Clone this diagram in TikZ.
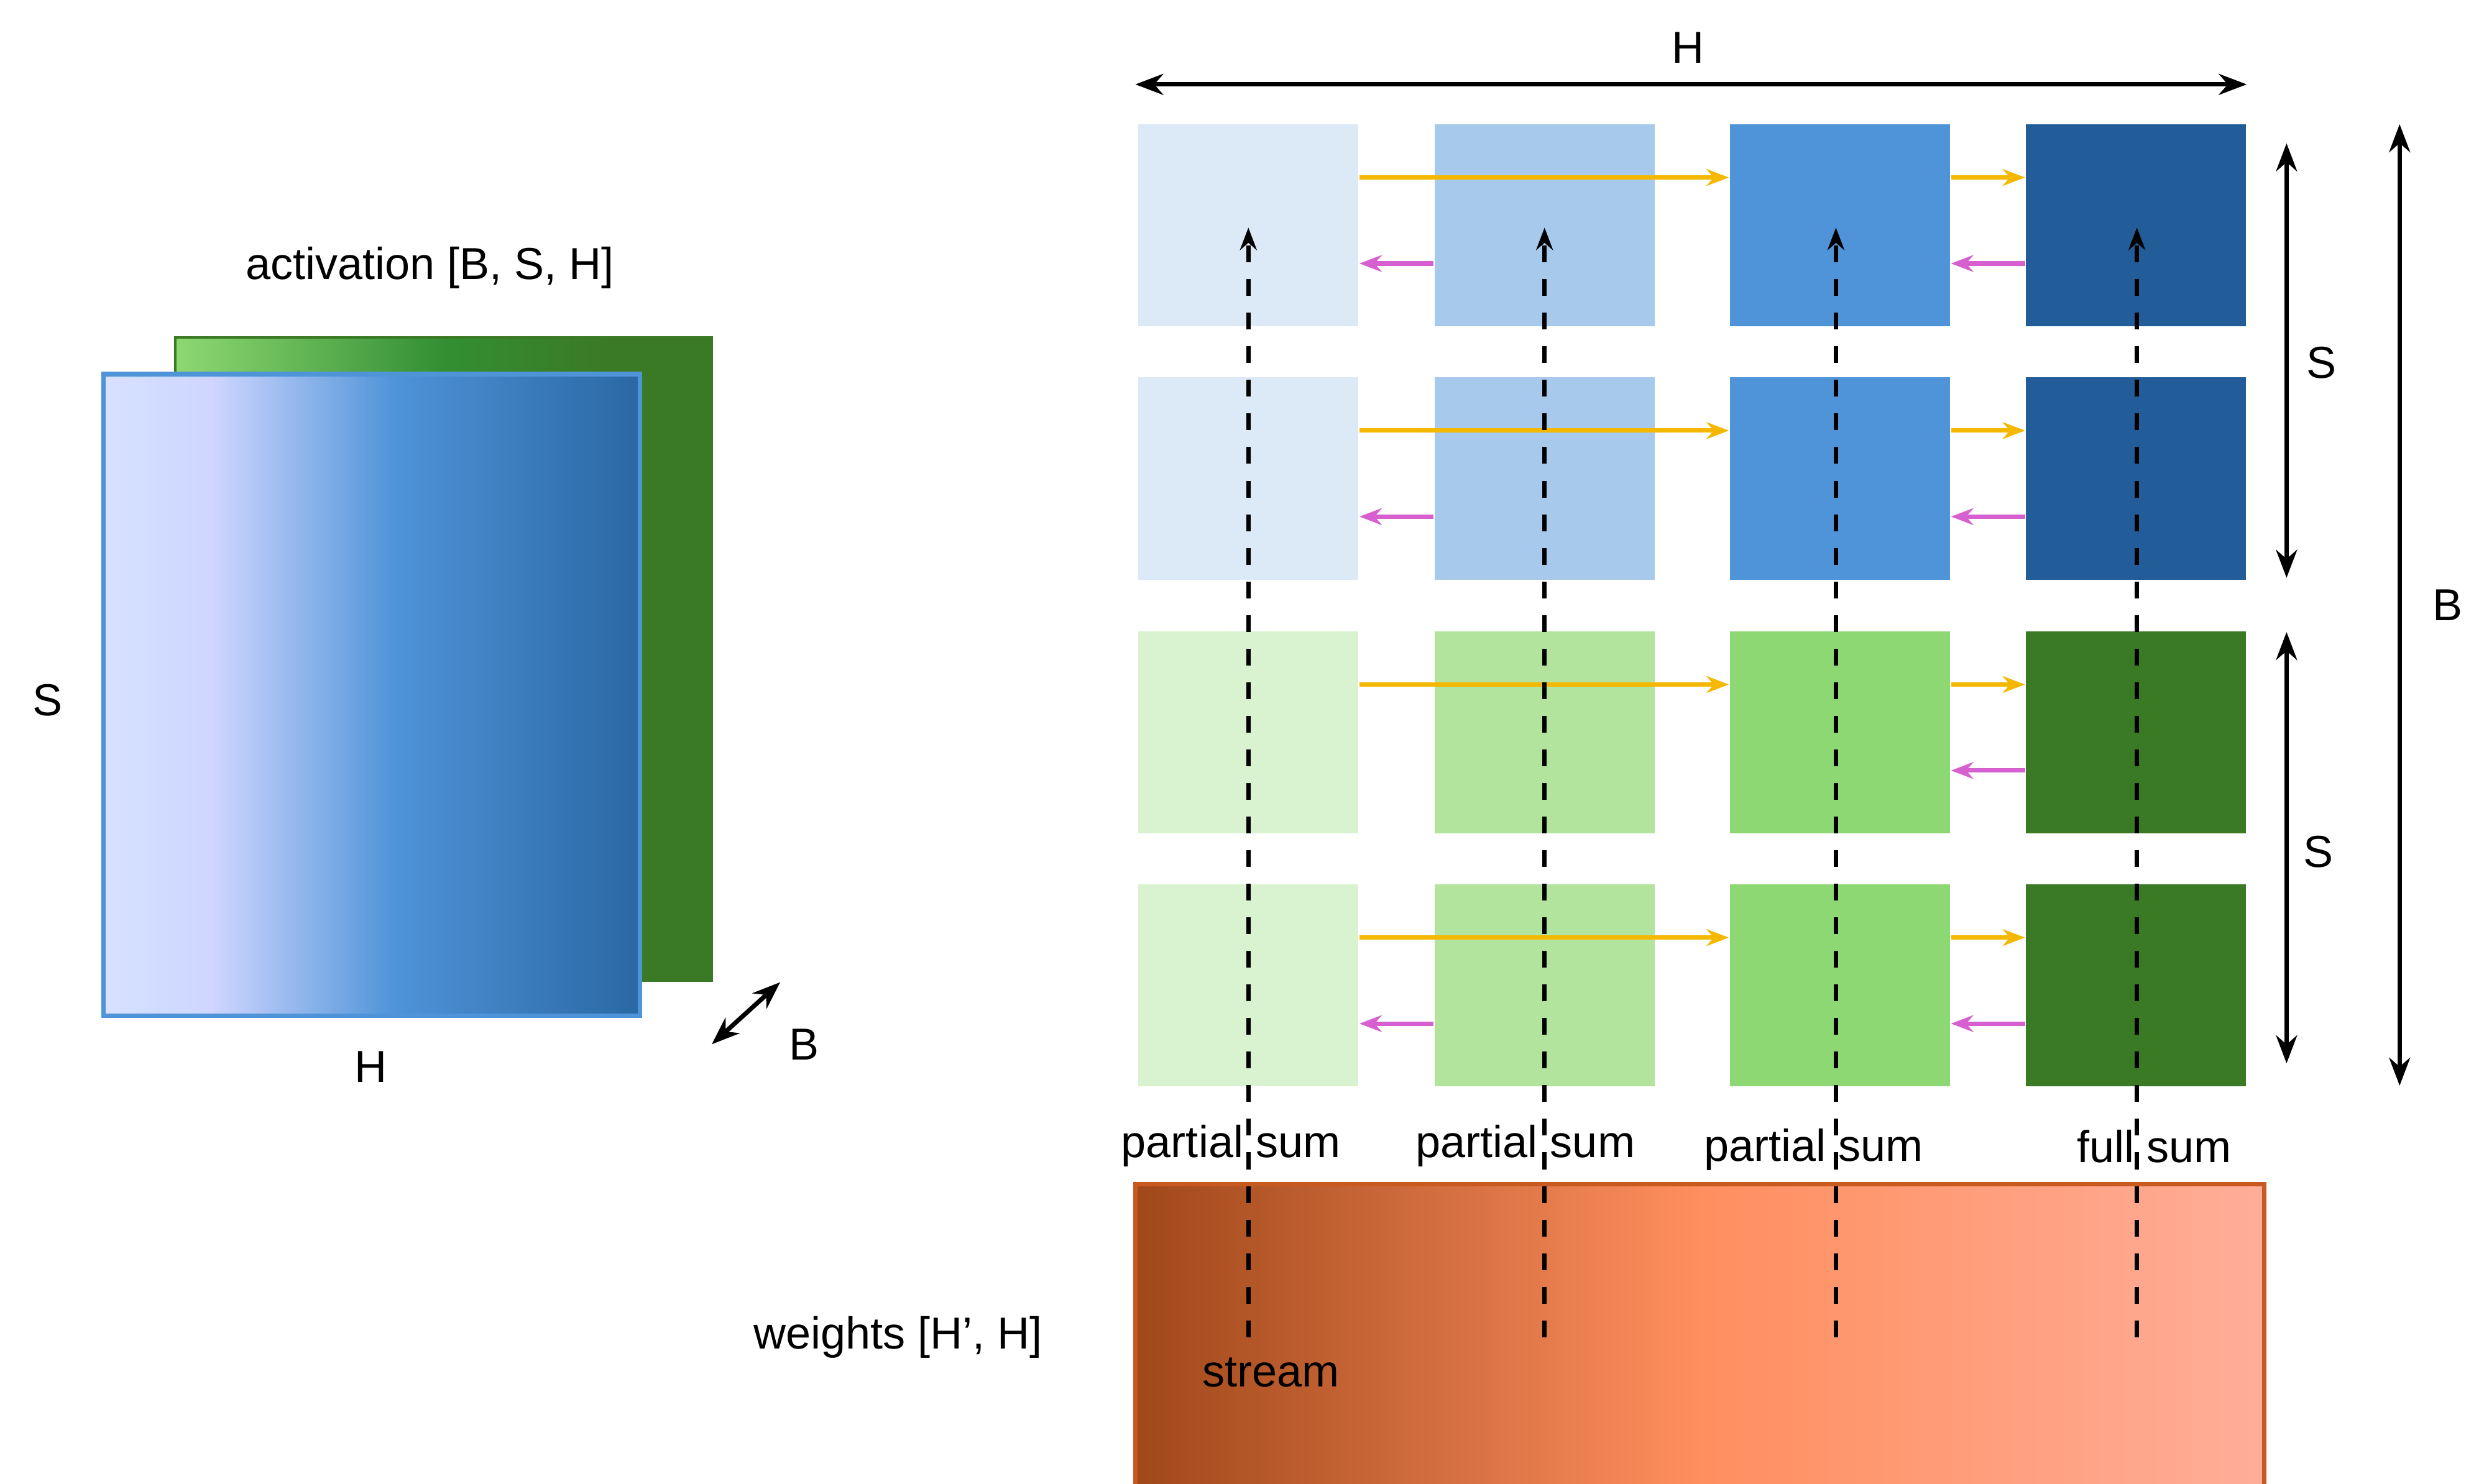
\documentclass[tikz,border=0pt]{standalone}
\usepackage{fontspec}
\setmainfont{Liberation Sans}
\usetikzlibrary{arrows.meta,positioning}
\definecolor{bA}{HTML}{DCE9F6}
\definecolor{bB}{HTML}{A7C9EC}
\definecolor{bC}{HTML}{4F94D8}
\definecolor{bD}{HTML}{225D99}
\definecolor{gA}{HTML}{D9F2D0}
\definecolor{gB}{HTML}{B3E49E}
\definecolor{gC}{HTML}{8ED873}
\definecolor{gD}{HTML}{3B7A24}
\definecolor{yarr}{HTML}{F5B800}
\definecolor{marr}{HTML}{D660D0}
\definecolor{oline}{HTML}{C85A20}
\pgfdeclarehorizontalshading{actblue}{100bp}{color(0bp)=(white); color(30bp)=(white!30!cyan!30!blue!20); color(35bp)=(white!40!cyan!20!blue!20); color(52bp)=(bC); color(80bp)=(bD); color(100bp)=(bD)}
\pgfdeclarehorizontalshading{actgreen}{100bp}{color(0bp)=(gC); color(25bp)=(gC); color(50bp)=(green!45!black!80); color(65bp)=(gD); color(100bp)=(gD)}
\pgfdeclarehorizontalshading{wgt}{100bp}{color(0bp)=(oline!80!black); color(25bp)=(oline!80!black); color(50bp)=(orange!60!red!70!white!90); color(75bp)=(orange!40!red!40!white); color(100bp)=(orange!30!red!30!white!80)}
\begin{document}
\begin{tikzpicture}[x=0.01cm,y=-0.01cm,font=\fontsize{8pt}{9pt}\selectfont]
    \tikzset{blk/.style = {minimum width=1.38cm, minimum height=1.27cm, inner sep=0pt, draw=none}}
    \tikzset{yel/.style = {draw=yarr, thick, -{Stealth[length=4pt]}}}
    \tikzset{mag/.style = {draw=marr, thick, -{Stealth[length=4pt]}}}
    \tikzset{dim/.style = {draw=black, thick, {Stealth[length=5pt]}-{Stealth[length=5pt]}}}
    \useasboundingbox (0,0) rectangle (1560,932);

    % activation tensor
    \shade[shading=actgreen, draw=gD] (110,212) rectangle (447,616);
    \shade[shading=actblue, draw=bC, thick] (65,235) rectangle (402,638);
    \node (act) at (270,168) {activation [B, S, H]};
    \node (actS) at (30,440) {S};
    \node (actH) at (233,670) {H};
    \coordinate (bb1) at (447,656);
    \coordinate (bb2) at (490,617);
    \draw[dim] (bb1) -- (bb2);
    \node (actB) at (505,656) {B};

    % blocks
    \foreach \r/\y/\ca/\cb/\cc/\cd in {1/141.5/bA/bB/bC/bD, 2/300.5/bA/bB/bC/bD, 3/460/gA/gB/gC/gD, 4/619/gA/gB/gC/gD} {
        \node[blk, fill=\ca] (c\r1) at (784,\y) {};
        \node[blk, fill=\cb] (c\r2) at (970,\y) {};
        \node[blk, fill=\cc] (c\r3) at (1155.5,\y) {};
        \node[blk, fill=\cd] (c\r4) at (1341.5,\y) {};
    }

    % forward / backward arrows
    \foreach \r in {1,2,3,4} {
        \draw[yel] ([yshift=0.3cm]c\r1.east) -- ([yshift=0.3cm]c\r3.west);
        \draw[yel] ([yshift=0.3cm]c\r3.east) -- ([yshift=0.3cm]c\r4.west);
        \draw[mag] ([yshift=-0.24cm]c\r4.west) -- ([yshift=-0.24cm]c\r3.east);
    }
    \foreach \r in {1,2,4}
        \draw[mag] ([yshift=-0.24cm]c\r2.west) -- ([yshift=-0.24cm]c\r1.east);

    % weights
    \shade[shading=wgt, draw=oline, thick] (713,744) rectangle (1422,934);
    \node (wl) at (564,840) {weights [H', H]};
    \node (st) at (798,862) {stream};
    \foreach \c/\x in {1/784,2/970,3/1153,4/1342} {
        \coordinate (s\c) at (\x,840);
        \coordinate (t\c) at (\x,143);
        \draw[thick, dashed, -{Stealth[length=4pt]}] (s\c) -- (t\c);
    }

    % sums
    \node (p1) at (773,720) {partial sum};
    \node (p2) at (958,720) {partial sum};
    \node (p3) at (1139,722) {partial sum};
    \node (fs) at (1353,720) {full sum};

    % dimensions
    \coordinate (h1) at (713,53);
    \coordinate (h2) at (1411,53);
    \draw[dim] (h1) -- (h2);
    \node (hl) at (1060,30) {H};
    \coordinate (sa1) at (1436,90);
    \coordinate (sa2) at (1436,363);
    \draw[dim] (sa1) -- (sa2);
    \node (sl1) at (1458,228) {S};
    \coordinate (sb1) at (1436,397);
    \coordinate (sb2) at (1436,668);
    \draw[dim] (sb1) -- (sb2);
    \node (sl2) at (1456,535) {S};
    \coordinate (ba1) at (1507,78);
    \coordinate (ba2) at (1507,682);
    \draw[dim] (ba1) -- (ba2);
    \node (bl) at (1537,380) {B};
\end{tikzpicture}
\end{document}
